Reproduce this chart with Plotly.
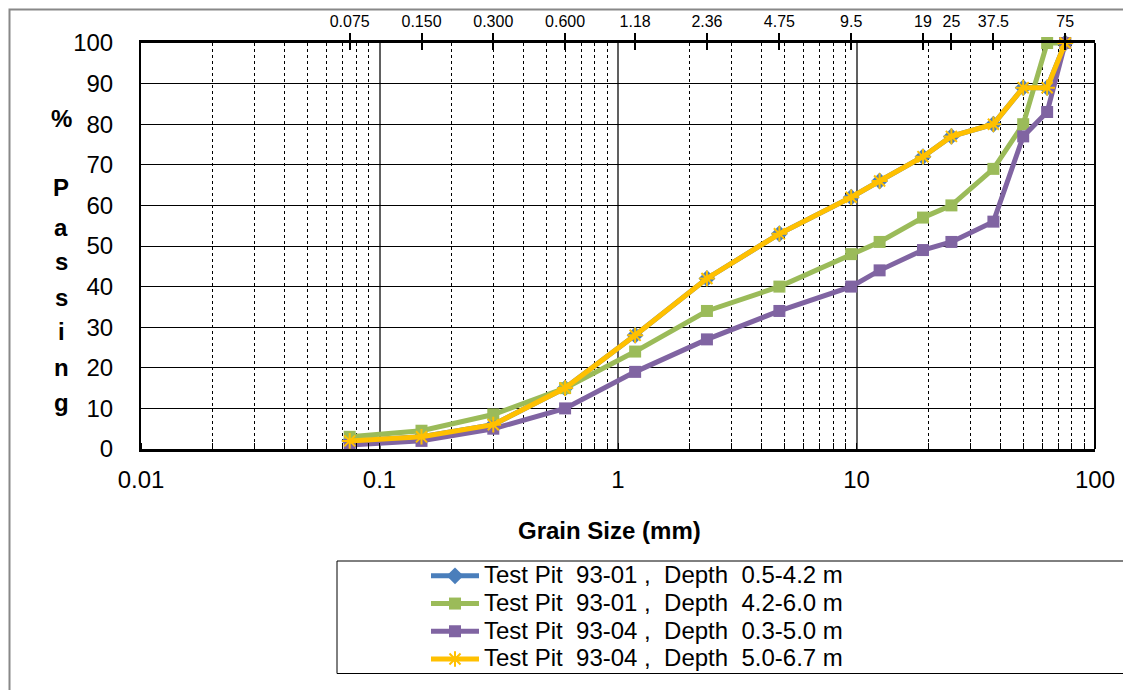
import plotly.graph_objects as go

# ---- data ----
sieve_mm = [0.075, 0.15, 0.3, 0.6, 1.18, 2.36, 4.75, 9.5, 12.5, 19, 25, 37.5, 50, 63, 75]
tp9301_a = [2, 3, 6, 15, 28, 42, 53, 62, 66, 72, 77, 80, 89, 89, 100]
tp9301_b = [3, 4.5, 8.5, 15, 24, 34, 40, 48, 51, 57, 60, 69, 80, 100, 100]
tp9304_a = [1, 2, 5, 10, 19, 27, 34, 40, 44, 49, 51, 56, 77, 83, 100]
tp9304_b = [2, 3, 6, 15, 28, 42, 53, 62, 66, 72, 77, 80, 89, 89, 100]
names = ["Test Pit  93-01 ,  Depth  0.5-4.2 m",
         "Test Pit  93-01 ,  Depth  4.2-6.0 m",
         "Test Pit  93-04 ,  Depth  0.3-5.0 m",
         "Test Pit  93-04 ,  Depth  5.0-6.7 m"]
top_tick_vals = [0.075, 0.15, 0.3, 0.6, 1.18, 2.36, 4.75, 9.5, 19, 25, 37.5, 75]
top_tick_text = ["0.075", "0.150", "0.300", "0.600", "1.18", "2.36", "4.75", "9.5", "19", "25", "37.5", "75"]
bottom_tick_vals = [0.01, 0.1, 1, 10, 100]
bottom_tick_text = ["0.01", "0.1", "1", "10", "100"]
y_ticks = list(range(0, 101, 10))

# page body has an 8px margin; figure sized to fit the 1131x698 window
OFF = 8
W, H = 1131 - 2 * OFF, 698 - 2 * OFF
# plot-area edges in window pixels (reference)
PL, PR, PT, PB = 141, 1095, 43, 449

def xp(px):
    return (px - PL) / (PR - PL)

def yp(py):
    return (PB - py) / (PB - PT)

FONT = "Liberation Sans, Arial, sans-serif"

fig = go.Figure()
styles = [
    dict(color="#4A7EBB", symbol="diamond", size=13, mline=None),
    dict(color="#9BBB59", symbol="square", size=12, mline=None),
    dict(color="#8064A2", symbol="square", size=12, mline=None),
    dict(color="#FFC000", symbol="asterisk-open", size=13, mline=2),
]
series = [tp9301_a, tp9301_b, tp9304_a, tp9304_b]
for vals, nm, st in zip(series, names, styles):
    nm_html = '<span style="font-size:24px">%s</span>' % nm.replace(" ", "\u00a0")
    marker = dict(symbol=st["symbol"], size=st["size"], color=st["color"])
    if st["mline"]:
        marker["line"] = dict(color=st["color"], width=st["mline"])
    fig.add_trace(go.Scatter(
        x=sieve_mm, y=vals, name=nm_html, mode="lines+markers",
        line=dict(color=st["color"], width=5), marker=marker,
        cliponaxis=False))

# invisible traces to activate top axes
fig.add_trace(go.Scatter(x=[0.01, 100], y=[0, 0], xaxis="x2", mode="markers",
                         marker=dict(opacity=0), showlegend=False, hoverinfo="skip"))
fig.add_trace(go.Scatter(x=[0.01, 100], y=[0, 0], xaxis="x3", mode="markers",
                         marker=dict(opacity=0), showlegend=False, hoverinfo="skip"))

fig.update_layout(
    width=W, height=H,
    margin=dict(l=PL - OFF, r=W - (PR - OFF), t=PT - OFF, b=H - (PB - OFF), autoexpand=False),
    paper_bgcolor="white", plot_bgcolor="white",
    font=dict(family=FONT, color="black", size=24),
    xaxis=dict(type="log", range=[-2, 2], tickvals=bottom_tick_vals, ticktext=bottom_tick_text,
               ticks="", showgrid=True, gridcolor="#606060", gridwidth=1.5,
               showline=True, linecolor="black", linewidth=3, mirror=False,
               tickfont=dict(size=24), ticklabelstandoff=7,
               minor=dict(showgrid=True, gridcolor="black", griddash="dot", gridwidth=1,
                          ticks="inside", ticklen=6, tickcolor="black", dtick="D1"),
               zeroline=False),
    xaxis2=dict(type="log", range=[-2, 2], overlaying="x", side="top",
                tickvals=top_tick_vals, ticktext=top_tick_text, ticks="outside",
                ticklen=7, tickwidth=2, tickcolor="black", showgrid=False,
                showline=True, linecolor="black", linewidth=3,
                tickfont=dict(size=16), zeroline=False),
    xaxis3=dict(type="log", range=[-2, 2], overlaying="x", side="top",
                tickvals=top_tick_vals, ticktext=[""] * len(top_tick_vals), ticks="inside",
                ticklen=7, tickwidth=2, tickcolor="black", showgrid=False,
                showline=False, showticklabels=False, zeroline=False),
    yaxis=dict(range=[0, 100], tickvals=y_ticks, ticks="", showgrid=True,
               gridcolor="black", gridwidth=1, showline=True, linecolor="black",
               linewidth=2, mirror=False, zeroline=False, tickfont=dict(size=24),
               ticklabelstandoff=21),
    legend=dict(x=xp(426), y=yp(557), xanchor="left", yanchor="top",
                bgcolor="rgba(0,0,0,0)", borderwidth=0, font=dict(size=19),
                tracegroupgap=0, itemwidth=48),
    showlegend=True,
)

shapes = [
    # right plot border
    dict(type="line", xref="paper", yref="paper", x0=1, x1=1, y0=0, y1=1,
         line=dict(color="black", width=2)),
    # legend box
    dict(type="rect", xref="paper", yref="paper", x0=xp(337), x1=xp(1160),
         y0=yp(673.5), y1=yp(561), line=dict(color="black", width=1)),
    # outer chart frame (drawn just inside the figure's visible area)
    dict(type="rect", xref="paper", yref="paper", x0=xp(9.5), x1=xp(1160),
         y0=yp(720), y1=yp(9.5), line=dict(color="#888888", width=2)),
]
fig.update_layout(shapes=shapes)

annotations = [dict(text="<b>Grain Size (mm)</b>", xref="paper", yref="paper",
                    x=xp(609), y=yp(530), showarrow=False, font=dict(size=24),
                    xanchor="center", yanchor="middle")]
title_chars = ["%", "P", "a", "s", "s", "i", "n", "g"]
title_py = [118, 188, 227, 262, 297, 331, 367, 402]
for ch, py in zip(title_chars, title_py):
    annotations.append(dict(text="<b>%s</b>" % ch, xref="paper", yref="paper",
                            x=xp(61), y=yp(py), showarrow=False, font=dict(size=24),
                            xanchor="center", yanchor="middle"))
fig.update_layout(annotations=annotations)

fig.write_html("out.html")
